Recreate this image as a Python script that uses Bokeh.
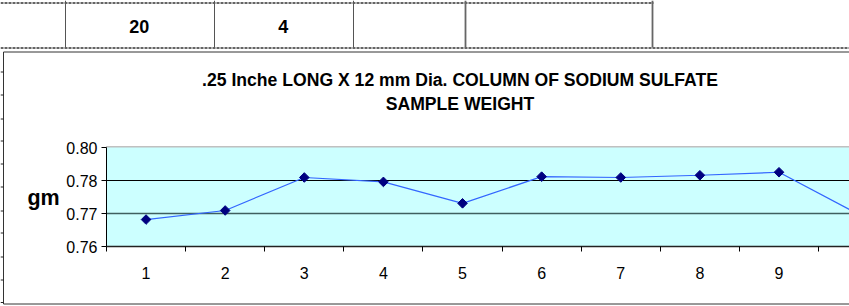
import math
from bokeh.plotting import figure
from bokeh.models import Range1d, FixedTicker, Grid
from bokeh.core.properties import value
from bokeh.embed import file_html
from bokeh.resources import INLINE

# ---- data ----
samples = [1, 2, 3, 4, 5, 6, 7, 8, 9, 10]
weights = [0.7698, 0.7731, 0.7851, 0.7835, 0.7757, 0.7854, 0.7851, 0.7859, 0.7870, 0.7718]
y_ticks = [0.76, 0.772, 0.784, 0.796]
y_tick_labels = ["0.76", "0.77", "0.78", "0.80"]
x_tick_labels = ["1", "2", "3", "4", "5", "6", "7", "8", "9", "10"]
cell_values = ["20", "4"]
title_lines = [".25 Inche LONG X 12 mm Dia. COLUMN OF SODIUM SULFATE", "SAMPLE WEIGHT"]
y_label = "gm"

FONT = "Liberation Sans"
W, H = 849, 306

# ---- background sheet: spreadsheet cells, chart area border and chart texts ----
bg = figure(width=W, height=H, output_backend="svg", toolbar_location=None,
            x_range=Range1d(0, W), y_range=Range1d(H, 0),
            x_axis_type=None, y_axis_type=None, min_border=0,
            background_fill_color="white", border_fill_color="white",
            outline_line_color=None)
bg.grid.visible = False

# chart area border
bg.quad(left=[3], right=[1000], top=[51.5], bottom=[303.5],
        fill_alpha=0, line_color="#333333", line_width=1)
# plot area top border (grey)
bg.segment(x0=[105.5], y0=[146.5], x1=[W], y1=[146.5], line_color="#808080", line_width=1)
# sheet gridlines above the chart
bg.segment(x0=[0, 0], y0=[2.5, 47.5], x1=[653, W], y1=[2.5, 47.5],
           line_color="#333333", line_width=1.5, line_dash="3 1")
bg.segment(x0=[65, 214, 353], y0=[0] * 3, x1=[65, 214, 353], y1=[47] * 3,
           line_color="#555555", line_width=1)
bg.segment(x0=[465, 652], y0=[0] * 2, x1=[465, 652], y1=[47] * 2,
           line_color="#666666", line_width=1.8)
row_y = [71.5, 94.5, 118.5, 140.5, 163.5, 186.5, 210.5, 232.5, 256.5, 279.5, 302]
bg.segment(x0=[0] * len(row_y), y0=row_y, x1=[3] * len(row_y), y1=row_y,
           line_color="#222222", line_width=1)

def txt(x, y, t, size):
    bg.text(x=[x], y=[y], text=[t], text_font=value(FONT), text_font_size=size,
            text_font_style="bold", text_align="center", text_baseline="alphabetic",
            text_color="black")

txt(459.5, 79.5, title_lines[0], "17.6px")
txt(459.5, 103.5, title_lines[1], "17.6px")
txt(43, 197.5, y_label, "21.5px")
txt(138.8, 26, cell_values[0], "18px")
txt(282.7, 26, cell_values[1], "18px")

# ---- the chart itself, overlaid on the sheet ----
p = figure(width=W, height=H, output_backend="svg", toolbar_location=None,
           x_range=Range1d(0.5, 9.891), y_range=Range1d(0.76, 0.796),
           min_border_left=106, min_border_right=0, min_border_top=147, min_border_bottom=60,
           background_fill_color="#CCFFFF", border_fill_color=None,
           outline_line_color=None)
p.styles = {"position": "absolute", "left": "0px", "top": "0px"}

xax = p.xaxis[0]
xax.ticker = FixedTicker(ticks=samples, minor_ticks=[s - 0.5 for s in samples])
xax.major_label_overrides = {s: t for s, t in zip(samples, x_tick_labels)}
xax.major_tick_out = 0
xax.major_tick_in = 0
xax.minor_tick_out = 5
xax.minor_tick_in = 0
xax.minor_tick_line_color = "black"
xax.axis_line_color = "#222222"
xax.axis_line_width = 1.5
xax.major_label_standoff = 15
xax.major_label_text_font = FONT
xax.major_label_text_font_size = "16px"
xax.major_label_text_color = "black"

yax = p.yaxis[0]
yax.ticker = FixedTicker(ticks=y_ticks, minor_ticks=[])
yax.major_label_overrides = {t: l for t, l in zip(y_ticks, y_tick_labels)}
yax.major_tick_out = 5
yax.major_tick_in = 0
yax.major_tick_line_color = "black"
yax.minor_tick_out = 0
yax.minor_tick_in = 0
yax.axis_line_color = "black"
yax.major_label_standoff = 4
yax.major_label_text_font = FONT
yax.major_label_text_font_size = "16px"
yax.major_label_text_color = "black"

p.xgrid.visible = False
p.ygrid.ticker = FixedTicker(ticks=[y_ticks[2]])
p.ygrid.grid_line_color = "black"
p.ygrid.grid_line_width = 1
p.add_layout(Grid(dimension=1, ticker=FixedTicker(ticks=[y_ticks[1]]),
                  grid_line_color="#3f5f5f", grid_line_width=1.3))

p.line(samples, weights, line_color="#3366FF", line_width=1.2)
p.scatter(samples, weights, marker="square", size=6.8, angle=math.pi / 4,
          fill_color="#000080", line_color="#000080")

open("out.html", "w").write(file_html([bg, p], INLINE))
